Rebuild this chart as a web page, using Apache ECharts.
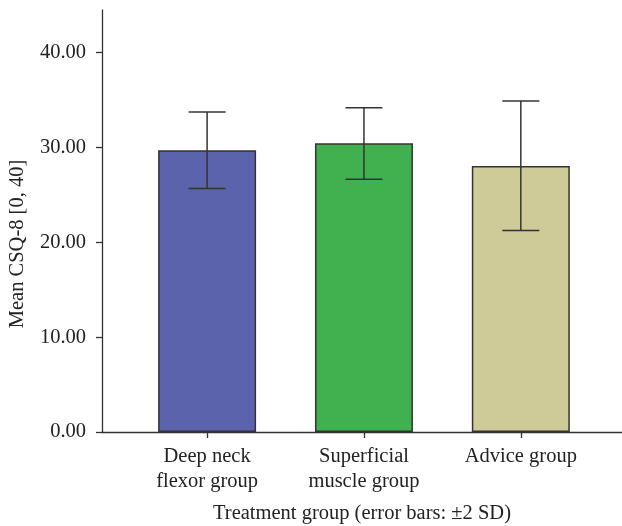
<!DOCTYPE html>
<html>
<head>
<meta charset="utf-8">
<script src="https://cdn.jsdelivr.net/npm/echarts@6/dist/echarts.min.js"></script>
<style>
html,body{margin:0;padding:0;background:#fff;}
#chart{width:622px;height:526px;}
</style>
</head>
<body>
<div id="chart"></div>
<script>
var categories = ['Deep neck\nflexor group', 'Superficial\nmuscle group', 'Advice group'];
var positions = [1, 2, 3];
var means = [29.70, 30.45, 28.06];
var lower = [25.68, 26.66, 21.26];
var upper = [33.75, 34.20, 34.90];
var colors = ['#5a63ab', '#41b150', '#cecb99'];
var yTicks = [0, 10, 20, 30, 40];

var FONT = 'Liberation Serif';
var chart = echarts.init(document.getElementById('chart'), null, {renderer: 'canvas'});

var barData = positions.map(function (p, i) {
  return {value: [p, means[i]], itemStyle: {color: colors[i]}};
});
var errData = positions.map(function (p, i) { return [p, lower[i], upper[i]]; });

chart.setOption({
  animation: false,
  backgroundColor: '#fff',
  grid: {left: 102, right: 0, top: 10, bottom: 94, containLabel: false, outerBoundsMode: 'none'},
  xAxis: {
    type: 'value',
    min: 0.33,
    max: 3.645,
    splitLine: {show: false},
    axisLine: {show: true, lineStyle: {color: '#333', width: 1.3}},
    axisTick: {show: true, customValues: positions, length: 6, lineStyle: {color: '#333', width: 1.3}},
    axisLabel: {
      customValues: positions,
      formatter: function (v) { var i = positions.indexOf(v); return i >= 0 ? categories[i] : ''; },
      fontFamily: FONT, fontSize: 20.5, color: '#222', lineHeight: 25, margin: 12
    },
    name: 'Treatment group (error bars: \u00b12 SD)',
    nameLocation: 'middle',
    nameGap: 71,
    nameTextStyle: {fontFamily: FONT, fontSize: 20.5, color: '#222'}
  },
  yAxis: {
    type: 'value',
    min: 0,
    max: 44.5,
    splitLine: {show: false},
    axisLine: {show: true, lineStyle: {color: '#333', width: 1.3}},
    axisTick: {show: true, customValues: yTicks, length: 6, lineStyle: {color: '#333', width: 1.3}},
    axisLabel: {
      customValues: yTicks,
      formatter: function (v) { return v.toFixed(2); },
      fontFamily: FONT, fontSize: 20.5, color: '#222', margin: 16
    },
    name: 'Mean CSQ-8 [0, 40]',
    nameLocation: 'middle',
    nameRotate: 90,
    nameGap: 74,
    nameTextStyle: {fontFamily: FONT, fontSize: 20.5, color: '#222', padding: [0, 46, 0, 0]}
  },
  series: [
    {
      type: 'bar',
      data: barData,
      barWidth: 98,
      itemStyle: {borderColor: '#333', borderWidth: 1.5},
      z: 2
    },
    {
      type: 'custom',
      data: errData,
      z: 3,
      renderItem: function (params, api) {
        var x = api.value(0);
        var lo = api.coord([x, api.value(1)]);
        var hi = api.coord([x, api.value(2)]);
        var hw = 18.5;
        var st = {stroke: '#333', lineWidth: 1.5, fill: null};
        return {
          type: 'group',
          children: [
            {type: 'line', shape: {x1: lo[0], y1: lo[1], x2: hi[0], y2: hi[1]}, style: st},
            {type: 'line', shape: {x1: lo[0] - hw, y1: lo[1], x2: lo[0] + hw, y2: lo[1]}, style: st},
            {type: 'line', shape: {x1: hi[0] - hw, y1: hi[1], x2: hi[0] + hw, y2: hi[1]}, style: st}
          ]
        };
      }
    }
  ]
});
</script>
</body>
</html>
